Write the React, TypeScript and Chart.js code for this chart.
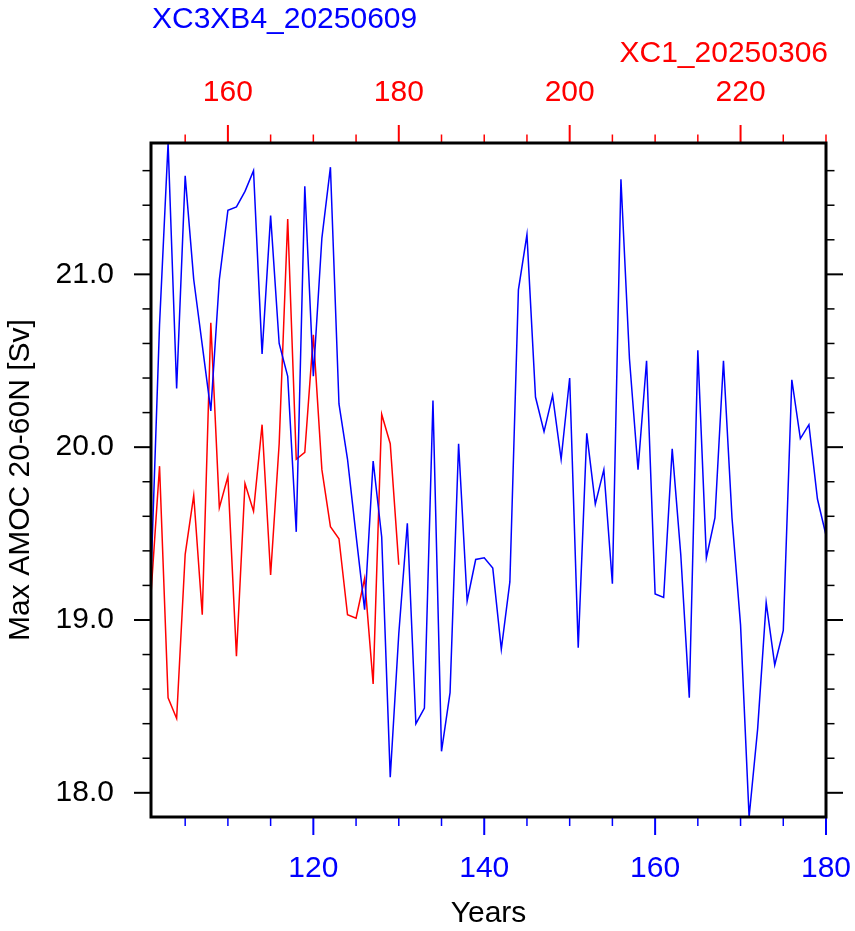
import { useEffect, useRef } from "react";
import { Chart, registerables } from "chart.js";

Chart.register(...registerables);

// Run names shown above the plot
const blueRunName = "XC3XB4_20250609";
const redRunName = "XC1_20250306";
const xAxisTitle = "Years";
const yAxisTitle = "Max AMOC 20-60N [Sv]";

// First model year of each run
const blueFirstYear = 101;
const redFirstYear = 151;

// Annual maximum AMOC (20-60N), Sv
const blueAmoc = [
  19.25, 20.71, 21.76, 20.34, 21.57, 20.97, 20.59, 20.21, 20.97, 21.37,
  21.39, 21.48, 21.6, 20.54, 21.34, 20.6, 20.41, 19.51, 21.51, 20.41,
  21.21, 21.62, 20.25, 19.93, 19.49, 19.06, 19.92, 19.48, 18.09, 18.92,
  19.56, 18.4, 18.49, 20.27, 18.24, 18.58, 20.02, 19.11, 19.35, 19.36,
  19.3, 18.83, 19.22, 20.91, 21.23, 20.29, 20.09, 20.3, 19.93, 20.4,
  18.84, 20.08, 19.67, 19.87, 19.21, 21.55, 20.51, 19.87, 20.5, 19.15,
  19.13, 19.99, 19.38, 18.55, 20.56, 19.36, 19.59, 20.5, 19.59, 18.97,
  17.86, 18.37, 19.1, 18.74, 18.94, 20.39, 20.05, 20.13, 19.7, 19.49,
];

const redAmoc = [
  19.15, 19.89, 18.55, 18.43, 19.38, 19.72, 19.03, 20.72, 19.65, 19.83,
  18.79, 19.79, 19.63, 20.13, 19.26, 20.02, 21.32, 19.93, 19.97, 20.65,
  19.87, 19.54, 19.47, 19.03, 19.01, 19.24, 18.63, 20.19, 20.02, 19.32,
];

// Axis ranges and labelled ticks
const bottomRange = [101, 180];
const topRange = [151, 230];
const yRange = [17.86, 21.76];
const bottomTickLabels = [120, 140, 160, 180];
const topTickLabels = [160, 180, 200, 220];
const yTickLabels = [18, 19, 20, 21];

const BLUE = "#0000ff";
const RED = "#ff0000";
const FONT = "'Liberation Sans', Arial, Helvetica, sans-serif";

const toPoints = (first: number, values: number[]) =>
  values.map((v, i) => ({ x: first + i, y: v }));

// Frame, outward tick marks and the text around the plot
const framePlugin = {
  id: "frameAndMarks",
  afterDatasetsDraw(chart: any) {
    const { ctx, chartArea: a, scales } = chart;
    const tick = (x1: number, y1: number, x2: number, y2: number, color: string, w: number) => {
      ctx.beginPath();
      ctx.strokeStyle = color;
      ctx.lineWidth = w;
      ctx.moveTo(x1, y1);
      ctx.lineTo(x2, y2);
      ctx.stroke();
    };
    ctx.save();
    ctx.lineCap = "butt";

    // y ticks, every 0.2 Sv, on both sides
    for (let k = 90; k <= 108; k++) {
      const py = scales.y.getPixelForValue(k / 5);
      const major = k % 5 === 0;
      const len = major ? 17 : 8.5;
      tick(a.left - len, py, a.left, py, "#000", major ? 2 : 1.5);
      tick(a.right, py, a.right + len, py, "#000", major ? 2 : 1.5);
    }
    // bottom (blue run years)
    for (let v = 105; v <= 180; v += 5) {
      const px = scales.x.getPixelForValue(v);
      const major = v % 20 === 0;
      tick(px, a.bottom, px, a.bottom + (major ? 18 : 9), BLUE, major ? 2 : 1.5);
    }
    // top (red run years)
    for (let v = 155; v <= 230; v += 5) {
      const px = scales.xTop.getPixelForValue(v);
      const major = v % 20 === 0;
      tick(px, a.top, px, a.top - (major ? 18 : 8.5), RED, major ? 2 : 1.5);
    }

    ctx.strokeStyle = "#000";
    ctx.lineWidth = 3;
    ctx.strokeRect(a.left, a.top, a.right - a.left, a.bottom - a.top);

    ctx.font = `30px ${FONT}`;
    ctx.textBaseline = "alphabetic";
    ctx.fillStyle = BLUE;
    ctx.textAlign = "left";
    ctx.fillText(blueRunName, a.left + 1, 28);
    ctx.fillStyle = RED;
    ctx.textAlign = "right";
    ctx.fillText(redRunName, a.right + 2, 62);

    ctx.fillStyle = "#000";
    ctx.textAlign = "center";
    ctx.fillText(xAxisTitle, (a.left + a.right) / 2, 922);
    ctx.translate(29, (a.top + a.bottom) / 2);
    ctx.rotate(-Math.PI / 2);
    ctx.fillText(yAxisTitle, 0, 0);
    ctx.restore();
  },
};

export default function App() {
  const canvasRef = useRef<HTMLCanvasElement | null>(null);

  useEffect(() => {
    const canvas = canvasRef.current;
    if (!canvas) return;
    const tickFont = { family: FONT, size: 30 };
    // keep the plot frame at a fixed place: no extra room for edge labels
    const noEdgePadding = (s: any) => {
      s.paddingLeft = 0;
      s.paddingRight = 0;
      s.paddingTop = 0;
      s.paddingBottom = 0;
    };
    const chart = new Chart(canvas, {
      type: "line",
      data: {
        datasets: [
          {
            label: blueRunName,
            data: toPoints(blueFirstYear, blueAmoc),
            borderColor: BLUE,
            borderWidth: 1.5,
            pointRadius: 0,
            xAxisID: "x",
            yAxisID: "y",
          },
          {
            label: redRunName,
            data: toPoints(redFirstYear, redAmoc),
            borderColor: RED,
            borderWidth: 1.5,
            pointRadius: 0,
            xAxisID: "xTop",
            yAxisID: "y",
          },
        ],
      },
      options: {
        responsive: false,
        animation: false,
        layout: { padding: { left: 0, right: 29, top: 0, bottom: 0 } },
        plugins: {
          legend: { display: false },
          tooltip: { enabled: false },
        },
        elements: { line: { tension: 0 } },
        scales: {
          x: {
            type: "linear",
            position: "bottom",
            min: bottomRange[0],
            max: bottomRange[1],
            grid: { display: false, drawTicks: false },
            border: { display: false },
            ticks: { color: BLUE, font: tickFont, padding: 34, maxRotation: 0, autoSkip: false },
            afterBuildTicks: (s: any) => {
              s.ticks = bottomTickLabels.map((v) => ({ value: v }));
            },
            afterFit: (s: any) => {
              s.height = 114;
              noEdgePadding(s);
            },
          },
          xTop: {
            type: "linear",
            position: "top",
            min: topRange[0],
            max: topRange[1],
            grid: { display: false, drawTicks: false },
            border: { display: false },
            ticks: { color: RED, font: tickFont, padding: 32, maxRotation: 0, autoSkip: false },
            afterBuildTicks: (s: any) => {
              s.ticks = topTickLabels.map((v) => ({ value: v }));
            },
            afterFit: (s: any) => {
              s.height = 143;
              noEdgePadding(s);
            },
          },
          y: {
            type: "linear",
            position: "left",
            min: yRange[0],
            max: yRange[1],
            grid: { display: false, drawTicks: false },
            border: { display: false },
            ticks: {
              color: "#000",
              font: tickFont,
              padding: 37,
              callback: (v: any) => Number(v).toFixed(1),
            },
            afterBuildTicks: (s: any) => {
              s.ticks = yTickLabels.map((v) => ({ value: v }));
            },
            afterFit: (s: any) => {
              s.width = 151;
              noEdgePadding(s);
            },
          },
        },
      },
      plugins: [framePlugin],
    });
    return () => chart.destroy();
  }, []);

  return (
    <div style={{ position: "absolute", left: 0, top: 0, width: 855, height: 931, background: "#fff" }}>
      <canvas ref={canvasRef} width={855} height={931} style={{ display: "block" }} />
    </div>
  );
}
